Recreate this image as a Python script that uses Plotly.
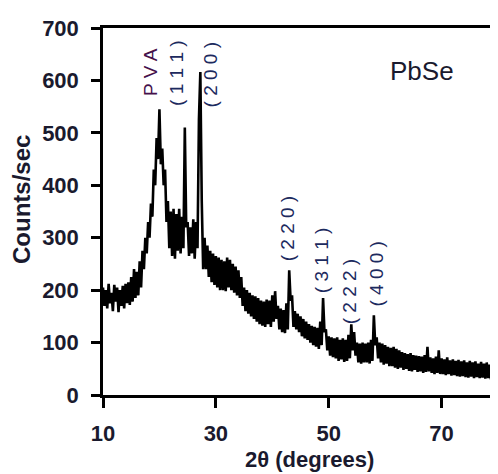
import plotly.graph_objects as go

# XRD pattern of PbSe film: upper / lower envelope of the noisy trace
two_theta_start = 10.0
two_theta_step = 0.5
counts_hi = [  # at 10.0, 10.5, ... 80.0
    205, 200, 212, 195, 210, 205, 200, 208, 212, 215,
    225, 240, 235, 255, 275, 300, 330, 365, 430, 490,
    545, 470, 430, 370, 350, 355, 345, 355, 340, 510,
    330, 320, 335, 330, 525, 370, 300, 285, 275, 270,
    265, 262, 258, 255, 262, 258, 250, 245, 238, 225,
    205, 200, 195, 190, 188, 185, 180, 178, 182, 180,
    190, 198, 170, 165, 162, 175, 238, 190, 160, 155,
    150, 145, 140, 135, 132, 130, 128, 140, 185, 125,
    112, 110, 108, 110, 105, 108, 105, 115, 135, 120,
    100, 98, 100, 98, 100, 105, 152, 110, 100, 98,
    95, 92, 90, 92, 88, 85, 82, 80, 78, 80,
    76, 75, 74, 73, 76, 92, 72, 70, 73, 85,
    70, 68, 72, 66, 68, 65, 67, 64, 66, 62,
    65, 62, 64, 60, 63, 60, 62, 58, 60, 58,
    60,
]
counts_lo = [  # at 10.25, 10.75, ... 79.75
    170, 165, 175, 160, 178, 158, 170, 165, 175, 172,
    178, 185, 190, 205, 240, 270, 300, 340, 400, 450,
    440, 400, 330, 280, 265, 260, 275, 270, 280, 320,
    265, 270, 260, 280, 616, 240, 240, 225, 215, 210,
    205, 200, 200, 198, 205, 200, 195, 190, 185, 170,
    160, 155, 150, 145, 140, 135, 132, 130, 135, 130,
    140, 145, 125, 120, 118, 125, 180, 130, 125, 120,
    112, 108, 105, 100, 95, 92, 88, 95, 120, 85,
    75, 72, 70, 65, 68, 63, 65, 70, 85, 75,
    62, 60, 62, 62, 60, 65, 95, 70, 62, 58,
    60, 55, 55, 52, 50, 52, 48, 50, 46, 45,
    48, 44, 45, 42, 44, 45, 42, 40, 42, 40,
    40, 38, 40, 37, 38, 36, 35, 36, 34, 33,
    35, 32, 34, 32, 33, 31, 32, 30, 32, 30,
]

peak_labels = ["P V A", "( 1 1 1 )", "( 2 0 0 )", "( 2 2 0 )", "( 3 1 1 )", "( 2 2 2 )", "( 4 0 0 )"]
label_x = [18.3, 22.9, 29.1, 42.7, 48.7, 53.7, 58.5]
label_y = [616, 614, 611, 317, 256, 197, 231]

x_ticks = [10, 30, 50, 70]
y_ticks = [0, 100, 200, 300, 400, 500, 600, 700]

xs, ys = [], []
for i, h in enumerate(counts_hi):
    xs.append(two_theta_start + i * two_theta_step)
    ys.append(h)
    if i < len(counts_lo):
        xs.append(two_theta_start + i * two_theta_step + two_theta_step / 2)
        ys.append(counts_lo[i])

fig = go.Figure()
fig.add_trace(go.Scatter(x=xs, y=ys, mode="lines",
                         line=dict(color="black", width=2.6), showlegend=False))

txt = "#1a1a2e"
for lab, lx, ly in zip(peak_labels, label_x, label_y):
    is_pva = lab.startswith("P")
    fig.add_annotation(x=lx, y=ly, text=lab, textangle=-90, showarrow=False,
                       xanchor="center", yanchor="middle",
                       font=dict(family="Arial", size=19,
                                 color="#45104b" if is_pva else "#1c2a5e"))

fig.add_annotation(x=66.6, y=618, text="PbSe", showarrow=False,
                   xanchor="center", yanchor="middle",
                   font=dict(family="Arial", size=26, color=txt))
fig.add_annotation(x=46.6, y=-0.175, xref="x", yref="paper", text="<b>2θ (degrees)</b>",
                   showarrow=False, xanchor="center", yanchor="middle",
                   font=dict(family="Arial", size=22, color=txt))
fig.add_annotation(x=-0.205, y=372, xref="paper", yref="y", text="<b>Counts/sec</b>",
                   textangle=-90, showarrow=False, xanchor="center", yanchor="middle",
                   font=dict(family="Arial", size=24, color=txt))

fig.add_shape(type="line", xref="paper", yref="paper", x0=0.9985, x1=0.9985, y0=0, y1=1,
              line=dict(color="#bbbbbb", width=1))

# the page body has an 8px default margin, so the figure is drawn 8px smaller
fig.update_layout(
    width=490, height=466,
    margin=dict(l=95, r=0, t=20, b=79, autoexpand=False),
    paper_bgcolor="white", plot_bgcolor="white",
    xaxis=dict(range=[10, 80], tickvals=x_ticks, ticks="outside", ticklen=10, tickwidth=2.5,
               tickcolor="black", showline=True, linecolor="black", linewidth=2.5,
               mirror=True, showgrid=False, zeroline=False, ticklabelstandoff=7,
               automargin=False,
               tickfont=dict(family="Arial", size=22, color=txt, weight="bold")),
    yaxis=dict(range=[0, 700], tickvals=y_ticks, ticks="outside", ticklen=9, tickwidth=2.5,
               tickcolor="black", showline=True, linecolor="black", linewidth=2.5,
               showgrid=False, zeroline=False, ticklabelstandoff=8, automargin=False,
               tickfont=dict(family="Arial", size=22, color=txt, weight="bold")),
)

fig.write_html("out.html")
